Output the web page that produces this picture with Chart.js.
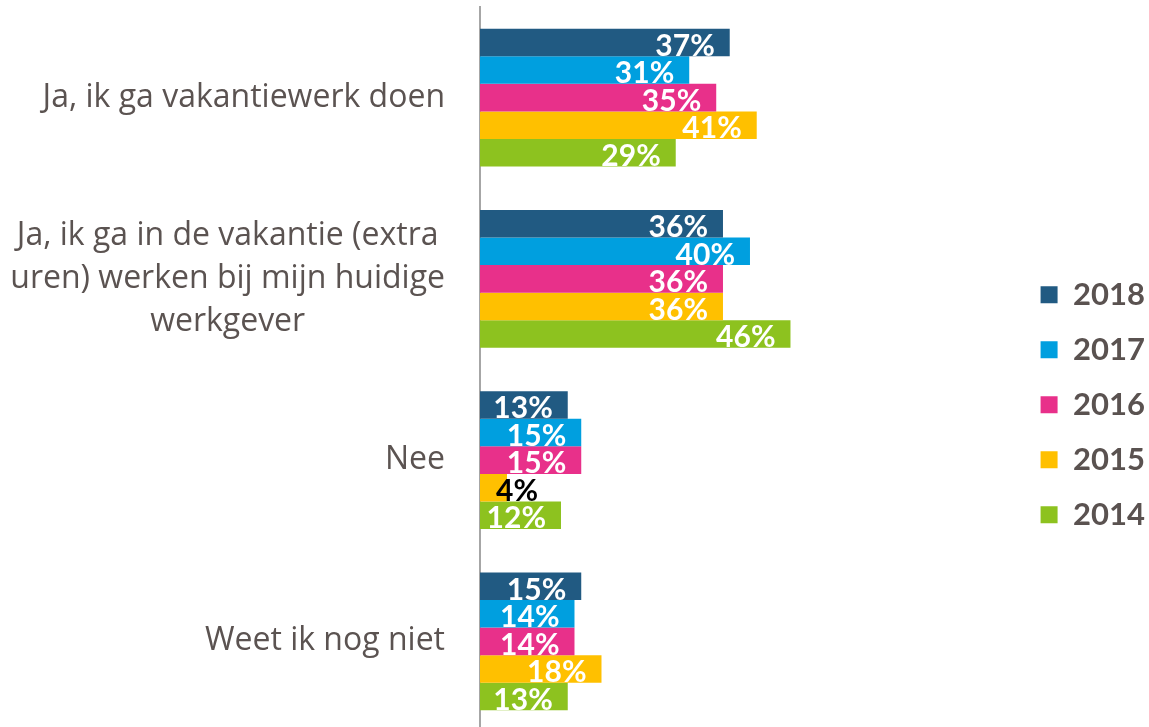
<!DOCTYPE html>
<html>
<head>
<meta charset="utf-8">
<script src="https://cdn.jsdelivr.net/npm/chart.js@4"></script>
<style>
  html, body { margin: 0; padding: 0; background: #fff; overflow: hidden; }
  #wrap { width: 1149px; height: 732px; }
</style>
</head>
<body>
<div id="wrap"><canvas id="vakantieChart" width="1149" height="732"></canvas></div>
<script>
// Categories (answers) and the yearly series, values in %
const categories = [
    'Ja, ik ga vakantiewerk doen',
    ['Ja, ik ga in de vakantie (extra', 'uren) werken bij mijn huidige', 'werkgever'],
    'Nee',
    'Weet ik nog niet'
];
const years = ['2018', '2017', '2016', '2015', '2014'];
const values2018 = [37, 36, 13, 15];
const values2017 = [31, 40, 15, 14];
const values2016 = [35, 36, 15, 14];
const values2015 = [41, 36, 4, 18];
const values2014 = [29, 46, 12, 13];
const colors = ['#215a82', '#009fdf', '#e8308a', '#ffc000', '#8dc21f'];

const series = [values2018, values2017, values2016, values2015, values2014];

// Percentage labels at the end of each bar (clipped to the bar's height)
const barLabels = {
    id: 'barLabels',
    afterDatasetsDraw(chart) {
        const ctx = chart.ctx;
        ctx.save();
        ctx.font = 'bold 30px Lato';
        ctx.textBaseline = 'alphabetic';
        chart.data.datasets.forEach((ds, i) => {
            chart.getDatasetMeta(i).data.forEach((bar, j) => {
                const text = ds.data[j] + '%';
                const w = ctx.measureText(text).width;
                const top = bar.y - bar.height / 2;
                ctx.save();
                ctx.beginPath();
                ctx.rect(0, top, chart.width, bar.height);
                ctx.clip();
                if (w + 20 > bar.x - bar.base) {
                    ctx.fillStyle = '#000';
                    ctx.textAlign = 'left';
                    ctx.fillText(text, bar.base + 16, top + 27);
                } else {
                    ctx.fillStyle = '#fff';
                    ctx.textAlign = 'right';
                    ctx.fillText(text, bar.x - 15, top + 27);
                }
                ctx.restore();
            });
        });
        ctx.restore();
    }
};

// Center the lines of a multi-line category label among themselves
const centerLines = {
    id: 'centerLines',
    beforeDraw(chart) {
        const scale = chart.scales.y;
        const ctx = chart.ctx;
        scale.getLabelItems().forEach(item => {
            if (Array.isArray(item.label) && !item._centered) {
                ctx.save();
                ctx.font = item.font.string;
                const w = Math.max(...item.label.map(l => ctx.measureText(l).width));
                ctx.restore();
                item.options.textAlign = 'center';
                item.options.translation[0] -= w / 2;
                item._centered = true;
            }
        });
    }
};

const data = {
    labels: categories,
    datasets: years.map((year, i) => ({
        label: year,
        data: series[i],
        backgroundColor: colors[i],
        borderWidth: 0,
        categoryPercentage: 0.76,
        barPercentage: 1
    }))
};

const config = {
    type: 'bar',
    data: data,
    options: {
        indexAxis: 'y',
        responsive: false,
        animation: false,
        layout: { padding: { top: 7, right: -6 } },
        scales: {
            x: {
                display: false,
                min: 0,
                max: 79.5
            },
            y: {
                afterFit: s => {
                    s.width = 480;
                    s.paddingTop = 0;
                    s.paddingBottom = 0;
                },
                grid: { display: false, drawTicks: false },
                border: { display: true, color: '#a6a6a6', width: 2 },
                ticks: {
                    padding: 35,
                    color: '#5b5351',
                    font: { family: 'Open Sans', size: 32, lineHeight: 1.33 }
                }
            }
        },
        plugins: {
            legend: {
                position: 'right',
                align: 'center',
                title: { display: true, text: '', font: { size: 12 }, padding: { top: 56, bottom: 0 } },
                labels: {
                    boxWidth: 17,
                    boxHeight: 17,
                    padding: 24,
                    color: '#5a5250',
                    font: { family: 'Lato', size: 31, weight: 'bold' }
                }
            },
            tooltip: { enabled: false }
        }
    },
    plugins: [barLabels, centerLines]
};

window.onload = function() {
    const ctx = document.getElementById('vakantieChart').getContext('2d');
    new Chart(ctx, config);
};
</script>
</body>
</html>
